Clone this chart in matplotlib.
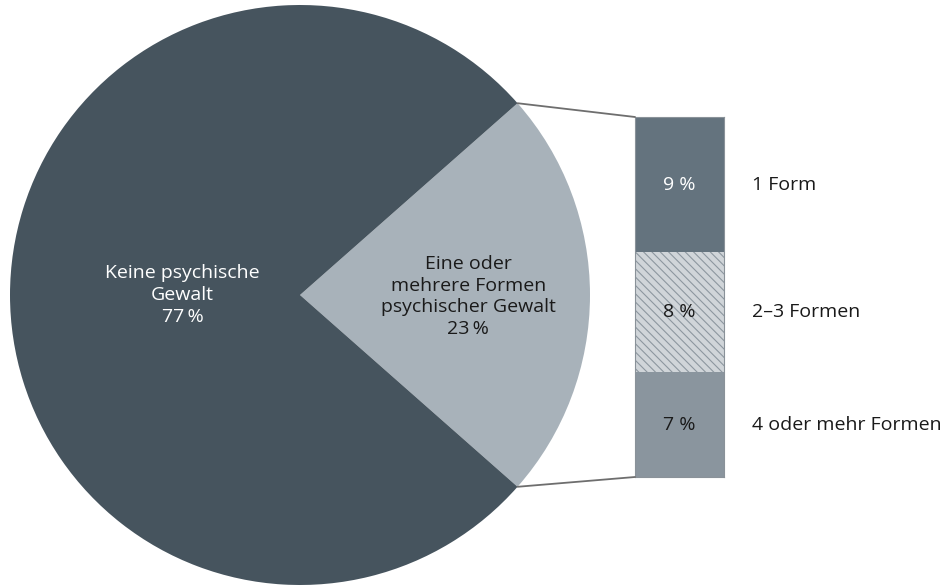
import numpy as np
import matplotlib
matplotlib.use("Agg")
import matplotlib.pyplot as plt
from matplotlib.patches import ConnectionPatch

plt.rcParams["font.family"] = ["Open Sans", "DejaVu Sans"]
plt.rcParams["hatch.linewidth"] = 0.8

# data
pie_labels = ["Eine oder\nmehrere Formen\npsychischer Gewalt\n23\u2009%", "Keine psychische\nGewalt\n77\u2009%"]
pie_values = [23, 77]
pie_colors = ["#a8b2ba", "#46545e"]

bar_labels = ["4 oder mehr Formen", "2\u20133 Formen", "1 Form"]
bar_values = [7, 8, 9]
bar_texts = ["7 %", "8 %", "9 %"]
bar_colors = ["#8a959e", "#d0d5d9", "#64737e"]

W, H = 942, 586
fs = 14
fig = plt.figure(figsize=(W / 100, H / 100), dpi=100)

# pie
ax_pie = fig.add_axes([10 / W, 1 / H, 580 / W, 580 / H])
start = -pie_values[0] / 100 * 360 / 2
wedges, _ = ax_pie.pie(pie_values, colors=pie_colors, startangle=start,
                       counterclock=True, radius=1,
                       wedgeprops=dict(linewidth=0))
ax_pie.set_xlim(-1, 1)
ax_pie.set_ylim(-1, 1)
ax_pie.set_aspect("equal")
ax_pie.axis("off")

ax_pie.text(0.58, -0.005, pie_labels[0], ha="center", va="center",
            fontsize=fs, color="#1a1a1a", linespacing=1.27)
ax_pie.text(-0.405, 0.0, pie_labels[1], ha="center", va="center",
            fontsize=fs, color="white", linespacing=1.27)

# bar
ax_bar = fig.add_axes([635 / W, (H - 477) / H, 89 / W, 360 / H])
bottom = 0
for i, v in enumerate(bar_values):
    if i == 1:
        ax_bar.bar(0, v, bottom=bottom, width=1, color=bar_colors[i],
                   edgecolor="#8d979f", linewidth=0, hatch="\\\\\\\\")
    else:
        ax_bar.bar(0, v, bottom=bottom, width=1, color=bar_colors[i],
                   linewidth=0)
    tc = "white" if i == 2 else "#1a1a1a"
    ax_bar.text(0, bottom + v / 2, bar_texts[i], ha="center", va="center",
                fontsize=fs, color=tc)
    ax_bar.text(0.81, bottom + v / 2, bar_labels[i], ha="left", va="center",
                fontsize=fs, color="#1a1a1a")
    bottom += v
ax_bar.set_xlim(-0.5, 0.5)
ax_bar.set_ylim(0, sum(bar_values))
ax_bar.set_xticks([])
ax_bar.set_yticks([])
for s in ax_bar.spines.values():
    s.set_color("#8a9299")
    s.set_linewidth(0.8)

# connecting lines
theta1 = np.deg2rad(wedges[0].theta1)
theta2 = np.deg2rad(wedges[0].theta2)
total = sum(bar_values)
con = ConnectionPatch(xyA=(-0.5, total), coordsA=ax_bar.transData,
                      xyB=(np.cos(theta2), np.sin(theta2)), coordsB=ax_pie.transData,
                      color="#6e6e6e", linewidth=1.3)
fig.add_artist(con)
con = ConnectionPatch(xyA=(-0.5, 0), coordsA=ax_bar.transData,
                      xyB=(np.cos(theta1), np.sin(theta1)), coordsB=ax_pie.transData,
                      color="#6e6e6e", linewidth=1.3)
fig.add_artist(con)

fig.savefig("out.png", dpi=100, facecolor="white")
